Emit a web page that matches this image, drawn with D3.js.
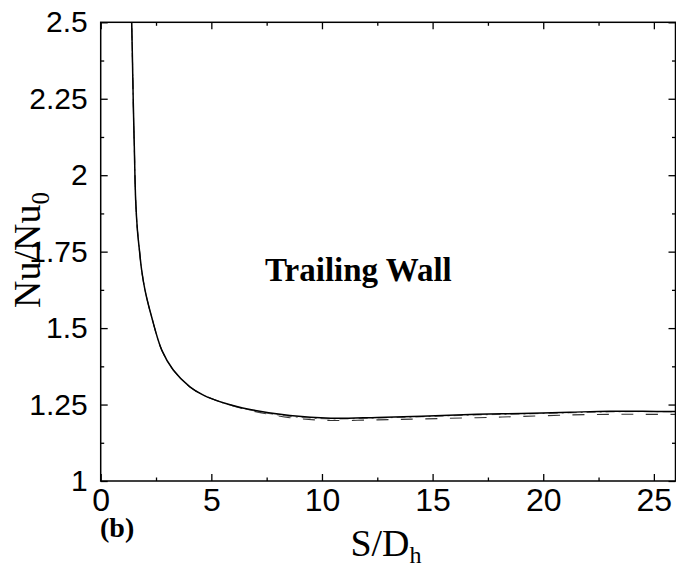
<!DOCTYPE html>
<html>
<head>
<meta charset="utf-8">
<script src="https://cdn.jsdelivr.net/npm/d3@7/dist/d3.min.js"></script>
<style>
  html, body { margin: 0; padding: 0; background: #fff; }
  svg { display: block; }
</style>
</head>
<body>
<svg id="chart" width="676" height="570"></svg>
<script>
// Streamwise position along the channel (S/Dh)
const sValues = [1.38, 1.40, 1.44, 1.47, 1.52, 1.58, 1.66, 1.75, 1.85, 2.0, 2.3, 2.76, 3.28, 4.03, 4.64, 5.54, 6.75, 8.55, 10.4, 12.5, 14.5, 17.0, 19.0, 21.2, 23.0, 24.5, 26.0];

// Normalised Nusselt number, three cases
const nuSolid   = [2.56, 2.50, 2.36, 2.245, 2.09, 1.919, 1.82, 1.755, 1.690, 1.625, 1.537, 1.428, 1.363, 1.308, 1.281, 1.256, 1.234, 1.214, 1.205, 1.208, 1.212, 1.218, 1.221, 1.225, 1.228, 1.228, 1.227];
const nuDashDot = [2.56, 2.50, 2.36, 2.245, 2.09, 1.919, 1.82, 1.755, 1.690, 1.625, 1.537, 1.428, 1.363, 1.308, 1.281, 1.255, 1.232, 1.211, 1.203, 1.206, 1.210, 1.216, 1.219, 1.223, 1.226, 1.227, 1.226];
const nuDashed  = [2.56, 2.50, 2.36, 2.245, 2.09, 1.919, 1.82, 1.755, 1.690, 1.625, 1.537, 1.428, 1.363, 1.308, 1.281, 1.256, 1.231, 1.207, 1.198, 1.200, 1.203, 1.207, 1.211, 1.216, 1.218, 1.218, 1.218];

// Axis ticks
const xMajor = [0, 5, 10, 15, 20, 25];
const xMinor = [2.5, 7.5, 12.5, 17.5, 22.5];
const yMajor = [1, 1.25, 1.5, 1.75, 2, 2.25, 2.5];
const yMinor = [1.125, 1.375, 1.625, 1.875, 2.125, 2.375];
const yTickLabels = ["1", "1.25", "1.5", "1.75", "2", "2.25", "2.5"];

const svg = d3.select("#chart");
const plotLeft = 100.7, plotRight = 676, plotTop = 22.3, plotBottom = 481;

const x = d3.scaleLinear().domain([0, 26]).range([plotLeft, plotRight]);
const y = d3.scaleLinear().domain([1, 2.5]).range([plotBottom, plotTop]);

svg.append("defs").append("clipPath").attr("id", "plotclip")
  .append("rect").attr("x", plotLeft).attr("y", plotTop)
  .attr("width", plotRight - plotLeft).attr("height", plotBottom - plotTop);

// Curves
const line = d3.line().x(d => x(d[0])).y(d => y(d[1])).curve(d3.curveCatmullRom.alpha(0.5));
const series = [
  { vals: nuDashed,  dash: "12,12.5",    width: 1.1, color: "#333" },
  { vals: nuDashDot, dash: "9,4,2,4",    width: 1.0, color: "#666" },
  { vals: nuSolid,   dash: null,         width: 1.5, color: "#000" }
];
const g = svg.append("g").attr("clip-path", "url(#plotclip)");
series.forEach(s => {
  g.append("path")
    .datum(sValues.map((v, i) => [v, s.vals[i]]))
    .attr("fill", "none")
    .attr("stroke", s.color)
    .attr("stroke-width", s.width)
    .attr("stroke-dasharray", s.dash)
    .attr("d", line);
});

// Axes with inward ticks on all four sides
function styleAxis(sel) {
  sel.select(".domain").remove();
  sel.selectAll(".tick line").attr("stroke", "#000").attr("stroke-width", 1.3);
}
const fmtY = d => yTickLabels[yMajor.indexOf(d)];

svg.append("g").attr("transform", `translate(0,${plotBottom})`)
  .call(d3.axisBottom(x).tickValues(xMajor).tickSizeInner(-7).tickPadding(7).tickFormat(d3.format("d")))
  .call(styleAxis)
  .selectAll("text").attr("font-family", "Liberation Sans, Arial, sans-serif")
  .attr("font-size", 32).attr("fill", "#000");
svg.append("g").attr("transform", `translate(0,${plotBottom})`)
  .call(d3.axisBottom(x).tickValues(xMinor).tickSizeInner(-3.5).tickFormat(""))
  .call(styleAxis);
svg.append("g").attr("transform", `translate(0,${plotTop})`)
  .call(d3.axisTop(x).tickValues(xMajor).tickSizeInner(-7).tickFormat(""))
  .call(styleAxis);
svg.append("g").attr("transform", `translate(0,${plotTop})`)
  .call(d3.axisTop(x).tickValues(xMinor).tickSizeInner(-3.5).tickFormat(""))
  .call(styleAxis);

svg.append("g").attr("transform", `translate(${plotLeft},0)`)
  .call(d3.axisLeft(y).tickValues(yMajor).tickSizeInner(-7).tickPadding(13).tickFormat(fmtY))
  .call(styleAxis)
  .selectAll("text").attr("font-family", "Liberation Sans, Arial, sans-serif")
  .attr("font-size", 30).attr("fill", "#000");
svg.append("g").attr("transform", `translate(${plotLeft},0)`)
  .call(d3.axisLeft(y).tickValues(yMinor).tickSizeInner(-3.5).tickFormat(""))
  .call(styleAxis);
svg.append("g").attr("transform", `translate(${plotRight - 0.5},0)`)
  .call(d3.axisRight(y).tickValues(yMajor).tickSizeInner(-7).tickFormat(""))
  .call(styleAxis);
svg.append("g").attr("transform", `translate(${plotRight - 0.5},0)`)
  .call(d3.axisRight(y).tickValues(yMinor).tickSizeInner(-3.5).tickFormat(""))
  .call(styleAxis);

// Frame
svg.append("rect")
  .attr("x", plotLeft).attr("y", plotTop)
  .attr("width", plotRight - 0.5 - plotLeft).attr("height", plotBottom - plotTop)
  .attr("fill", "none").attr("stroke", "#000").attr("stroke-width", 1.5);

// Titles
const serif = "Liberation Serif, Times New Roman, serif";
const xt = svg.append("text")
  .attr("x", 386).attr("y", 556)
  .attr("text-anchor", "middle")
  .attr("font-family", serif).attr("font-size", 38).attr("fill", "#000");
xt.append("tspan").text("S/D");
xt.append("tspan").attr("font-size", 24).attr("dy", 7).text("h");

const yt = svg.append("text")
  .attr("transform", "translate(40,250) rotate(-90)")
  .attr("text-anchor", "middle")
  .attr("font-family", serif).attr("font-size", 38).attr("fill", "#000");
yt.append("tspan").text("Nu/Nu");
yt.append("tspan").attr("font-size", 25).attr("dy", 9).text("0");

svg.append("text")
  .attr("x", 265).attr("y", 281)
  .attr("font-family", serif).attr("font-weight", "bold")
  .attr("font-size", 33).attr("fill", "#000")
  .text("Trailing Wall");

svg.append("text")
  .attr("x", 100).attr("y", 537)
  .attr("font-family", serif).attr("font-weight", "bold")
  .attr("font-size", 28).attr("fill", "#000")
  .text("(b)");
</script>
</body>
</html>
